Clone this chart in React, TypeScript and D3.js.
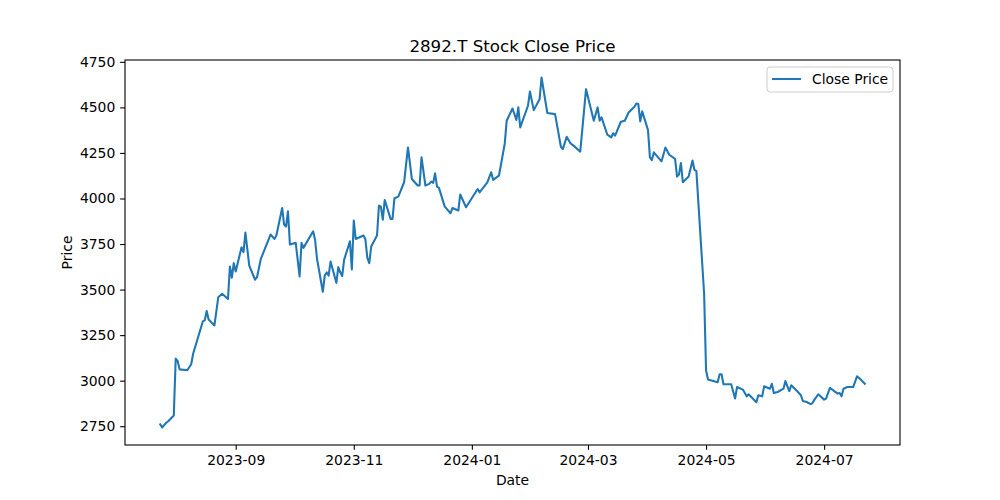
import React, { useEffect, useRef } from "react";
import * as d3 from "d3";

// close prices (2892.T)
const dates = [
  "2023-07-24", "2023-07-25", "2023-07-27", "2023-07-28", "2023-07-31",
  "2023-08-01", "2023-08-02", "2023-08-03", "2023-08-07", "2023-08-09", "2023-08-10",
  "2023-08-15", "2023-08-16", "2023-08-17", "2023-08-18", "2023-08-21", "2023-08-23",
  "2023-08-25", "2023-08-28", "2023-08-29", "2023-08-30", "2023-08-31",
  "2023-09-01", "2023-09-04", "2023-09-05", "2023-09-06", "2023-09-08", "2023-09-11",
  "2023-09-12", "2023-09-14", "2023-09-19", "2023-09-21", "2023-09-22", "2023-09-25",
  "2023-09-26", "2023-09-27", "2023-09-28", "2023-09-29",
  "2023-10-02", "2023-10-04", "2023-10-05", "2023-10-06", "2023-10-11", "2023-10-12",
  "2023-10-13", "2023-10-16", "2023-10-17", "2023-10-18", "2023-10-19", "2023-10-20",
  "2023-10-23", "2023-10-24", "2023-10-25", "2023-10-26", "2023-10-27", "2023-10-30",
  "2023-10-31",
  "2023-11-01", "2023-11-02", "2023-11-06", "2023-11-07", "2023-11-08", "2023-11-09",
  "2023-11-10", "2023-11-13", "2023-11-14", "2023-11-15", "2023-11-16", "2023-11-17",
  "2023-11-20", "2023-11-21", "2023-11-22", "2023-11-24", "2023-11-27", "2023-11-29",
  "2023-12-01", "2023-12-04", "2023-12-05", "2023-12-06", "2023-12-08", "2023-12-10",
  "2023-12-11", "2023-12-12", "2023-12-13", "2023-12-14", "2023-12-15", "2023-12-18",
  "2023-12-21", "2023-12-22", "2023-12-25", "2023-12-26", "2023-12-29",
  "2024-01-04", "2024-01-05", "2024-01-09", "2024-01-11", "2024-01-12", "2024-01-15",
  "2024-01-18", "2024-01-19", "2024-01-22", "2024-01-24", "2024-01-25", "2024-01-26",
  "2024-01-30", "2024-01-31",
  "2024-02-02", "2024-02-05", "2024-02-06", "2024-02-09", "2024-02-13", "2024-02-16",
  "2024-02-17", "2024-02-19", "2024-02-21", "2024-02-23", "2024-02-26", "2024-02-29",
  "2024-03-04", "2024-03-06", "2024-03-07", "2024-03-08", "2024-03-11", "2024-03-13",
  "2024-03-14", "2024-03-15", "2024-03-18", "2024-03-20", "2024-03-22", "2024-03-25",
  "2024-03-26", "2024-03-27", "2024-03-28", "2024-03-29",
  "2024-04-01", "2024-04-02", "2024-04-03", "2024-04-04", "2024-04-08", "2024-04-10",
  "2024-04-12", "2024-04-15", "2024-04-16", "2024-04-17", "2024-04-18", "2024-04-19",
  "2024-04-22", "2024-04-24", "2024-04-25", "2024-04-26", "2024-04-30",
  "2024-05-01", "2024-05-02", "2024-05-07", "2024-05-08", "2024-05-09", "2024-05-10",
  "2024-05-14", "2024-05-16", "2024-05-17", "2024-05-20", "2024-05-22", "2024-05-23",
  "2024-05-27", "2024-05-28", "2024-05-30", "2024-05-31",
  "2024-06-03", "2024-06-04", "2024-06-05", "2024-06-07", "2024-06-10", "2024-06-11",
  "2024-06-13", "2024-06-14", "2024-06-17", "2024-06-19", "2024-06-20", "2024-06-22",
  "2024-06-24", "2024-06-25", "2024-06-26", "2024-06-28",
  "2024-07-01", "2024-07-02", "2024-07-04", "2024-07-08", "2024-07-09", "2024-07-10",
  "2024-07-11", "2024-07-13", "2024-07-16", "2024-07-18", "2024-07-20", "2024-07-22",
];

const closes = [
  2760, 2743, 2768, 2776, 2809,
  3121, 3108, 3062, 3057, 3090, 3148,
  3325, 3331, 3382, 3336, 3303, 3458,
  3477, 3448, 3627, 3565, 3645,
  3599, 3732, 3705, 3813, 3632, 3554,
  3568, 3669, 3802, 3778, 3797, 3948,
  3857, 3846, 3930, 3747,
  3757, 3572, 3757, 3729, 3820, 3773,
  3669, 3488, 3577, 3594, 3577, 3654,
  3537, 3623, 3595, 3574, 3663, 3765,
  3610,
  3879, 3778, 3797, 3776, 3674, 3645,
  3736, 3797, 3961, 3955, 3884, 3992,
  3888, 3888, 4001, 4010, 4089, 4280,
  4107, 4071, 4071, 4226, 4071, 4080,
  4093, 4085, 4138, 4065, 4058, 3955,
  3919, 3948, 3934, 4022, 3952,
  4052, 4034, 4089, 4144, 4102, 4125,
  4302, 4427, 4494, 4431, 4500, 4390,
  4509, 4587,
  4485, 4545, 4664, 4469, 4463, 4284,
  4271, 4339, 4302, 4286, 4257, 4600,
  4427, 4500, 4427, 4445, 4350, 4335,
  4358, 4345, 4421, 4427, 4472, 4503,
  4521, 4518, 4423, 4478,
  4376, 4226, 4211, 4253, 4204, 4280,
  4240, 4217, 4120, 4131, 4195, 4089,
  4120, 4208, 4157, 4150, 3477,
  3057, 3006, 2991, 3035, 3035, 2980,
  2980, 2902, 2965, 2951, 2914, 2925,
  2882, 2920, 2914, 2969,
  2956, 2983, 2932, 2938, 2956, 2998,
  2943, 2975, 2943, 2920, 2889, 2883,
  2871, 2877, 2896, 2925,
  2896, 2902, 2960, 2929, 2932, 2914,
  2956, 2965, 2965, 3024, 3006, 2983,
];

const yTicks = [2750, 3000, 3250, 3500, 3750, 4000, 4250, 4500, 4750];
const xTickDates = ["2023-09-01", "2023-11-01", "2024-01-01", "2024-03-01", "2024-05-01", "2024-07-01"];

const title = "2892.T Stock Close Price";
const seriesLabel = "Close Price";

export default function App() {
  const ref = useRef<SVGSVGElement>(null);

  useEffect(() => {
    const width = 1000;
    const height = 500;
    const margin = { top: 60, right: 100, bottom: 55, left: 125 };
    const color = "#1f77b4";
    const font = "DejaVu Sans, sans-serif";

    const parse = d3.timeParse("%Y-%m-%d");
    const data = dates.map((d, i) => ({ date: parse(d) as Date, value: closes[i] }));

    // matplotlib style 5% padding on both axes
    const [t0, t1] = d3.extent(data, d => d.date.getTime()) as [number, number];
    const tPad = (t1 - t0) * 0.05;
    const [v0, v1] = d3.extent(data, d => d.value) as [number, number];
    const vPad = (v1 - v0) * 0.05;

    const x = d3.scaleTime()
      .domain([new Date(t0 - tPad), new Date(t1 + tPad)])
      .range([margin.left, width - margin.right]);
    const y = d3.scaleLinear()
      .domain([v0 - vPad, v1 + vPad])
      .range([height - margin.bottom, margin.top]);

    const svg = d3.select(ref.current);
    svg.selectAll("*").remove();

    svg.append("rect").attr("width", width).attr("height", height).attr("fill", "white");

    // line
    const line = d3.line<{ date: Date; value: number }>()
      .x(d => x(d.date))
      .y(d => y(d.value));

    svg.append("path")
      .datum(data)
      .attr("fill", "none")
      .attr("stroke", color)
      .attr("stroke-width", 2.08)
      .attr("stroke-linejoin", "round")
      .attr("stroke-linecap", "square")
      .attr("d", line);

    // x axis
    const xAxis = svg.append("g")
      .attr("transform", `translate(0, ${height - margin.bottom})`)
      .call(
        d3.axisBottom(x)
          .tickValues(xTickDates.map(d => parse(d) as Date))
          .tickFormat(d => d3.timeFormat("%Y-%m")(d as Date))
          .tickSize(4.86)
          .tickPadding(4.86)
      );
    xAxis.select(".domain").remove();
    xAxis.selectAll("line").attr("stroke", "black").attr("stroke-width", 1.1);
    xAxis.selectAll("text")
      .attr("font-family", font)
      .attr("font-size", 13.9)
      .attr("fill", "black");

    // y axis
    const yAxis = svg.append("g")
      .attr("transform", `translate(${margin.left}, 0)`)
      .call(
        d3.axisLeft(y)
          .tickValues(yTicks)
          .tickFormat(d3.format("d"))
          .tickSize(4.86)
          .tickPadding(4.86)
      );
    yAxis.select(".domain").remove();
    yAxis.selectAll("line").attr("stroke", "black").attr("stroke-width", 1.1);
    yAxis.selectAll("text")
      .attr("font-family", font)
      .attr("font-size", 13.9)
      .attr("fill", "black");

    // frame
    svg.append("rect")
      .attr("x", margin.left)
      .attr("y", margin.top)
      .attr("width", width - margin.left - margin.right)
      .attr("height", height - margin.top - margin.bottom)
      .attr("fill", "none")
      .attr("stroke", "black")
      .attr("stroke-width", 1.1);

    // title and axis labels
    const cx = (margin.left + width - margin.right) / 2;
    svg.append("text")
      .attr("x", cx)
      .attr("y", 52)
      .attr("text-anchor", "middle")
      .attr("font-family", font)
      .attr("font-size", 16.7)
      .text(title);

    svg.append("text")
      .attr("x", cx)
      .attr("y", 485)
      .attr("text-anchor", "middle")
      .attr("font-family", font)
      .attr("font-size", 13.9)
      .text("Date");

    svg.append("text")
      .attr("transform", `translate(72, ${(margin.top + height - margin.bottom) / 2}) rotate(-90)`)
      .attr("text-anchor", "middle")
      .attr("font-family", font)
      .attr("font-size", 13.9)
      .text("Price");

    // legend
    const legend = svg.append("g").attr("transform", "translate(767, 67)");
    legend.append("rect")
      .attr("width", 126)
      .attr("height", 25)
      .attr("rx", 3)
      .attr("fill", "white")
      .attr("fill-opacity", 0.8)
      .attr("stroke", "#cccccc")
      .attr("stroke-width", 1);
    legend.append("line")
      .attr("x1", 5).attr("x2", 34)
      .attr("y1", 12).attr("y2", 12)
      .attr("stroke", color)
      .attr("stroke-width", 2.08);
    legend.append("text")
      .attr("x", 45)
      .attr("y", 17)
      .attr("font-family", font)
      .attr("font-size", 13.9)
      .text(seriesLabel);
  }, []);

  return (
    <svg
      ref={ref}
      width={1000}
      height={500}
      style={{ position: "absolute", left: 0, top: 0 }}
    ></svg>
  );
}
